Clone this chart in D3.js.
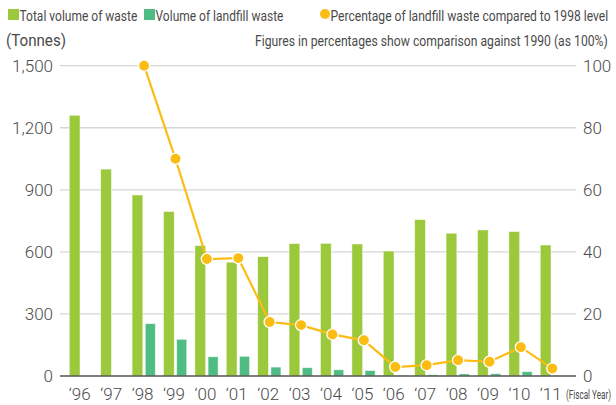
<!DOCTYPE html>
<html><head><meta charset="utf-8">
<script src="https://cdn.jsdelivr.net/npm/d3@7"></script>
<style>
html,body{margin:0;padding:0;background:#fff;}
svg text{font-family:Roboto,"Liberation Sans",Arial,sans-serif;}
</style></head>
<body><svg id="c" width="616" height="405"></svg>
<script>
const years = ["‘96","‘97","‘98","‘99","‘00","‘01","‘02","‘03","‘04","‘05","‘06","‘07","‘08","‘09","‘10","‘11"];
const totalWaste = [1260,1000,875,795,630,550,577,640,641,638,604,756,690,706,698,633];
const landfillWaste = [null,null,253,177,93,95,43,40,30,26,3,6,10,11,21,1];
const landfillPct = [null,null,100,70,37.7,38,17.4,16.4,13.4,11.5,2.9,3.5,5.1,4.6,9.3,2.4];
const leftTicks = [0,300,600,900,1200,1500];
const rightTicks = [0,20,40,60,80,100];

const C_TOTAL = "#9bc93b", C_LAND = "#4fbd83", C_PCT = "#fbbd14", TXT = "#4a4a4a";
const svg = d3.select("#c");
const x0 = 60, x1 = 576;
const x = d3.scalePoint().domain(years).range([81.3, 552.3]);
const y = d3.scaleLinear().domain([0,1500]).range([376, 65.7]);
const yr = d3.scaleLinear().domain([0,100]).range([376, 65.7]);

// condensed text helper: scales text horizontally to the wanted width
function condensed(px, py, size, width, str){
  const g = svg.append("g");
  const t = g.append("text").attr("font-size",size).attr("fill",TXT).text(str);
  const w = t.node().getComputedTextLength();
  const s = Math.min(1, width / w);
  g.attr("transform",`translate(${px},${py}) scale(${s},1)`);
  return t;
}

// gridlines
svg.append("g").selectAll("line").data(leftTicks.filter(d=>d>0)).join("line")
  .attr("x1",x0).attr("x2",x1).attr("y1",d=>y(d)).attr("y2",d=>y(d))
  .attr("stroke","#d6d6d6").attr("stroke-width",1.3);

// left axis labels
const la = svg.append("g").attr("transform",`translate(${x0},0)`)
  .call(d3.axisLeft(y).tickValues(leftTicks).tickSize(0).tickPadding(7).tickFormat(d3.format(",")));
la.select(".domain").remove();
la.selectAll("text").attr("font-size",17).attr("fill",TXT).attr("font-weight",300)
  .attr("font-family","Roboto, 'Liberation Sans', sans-serif");

// right axis labels
const ra = svg.append("g").attr("transform",`translate(${x1},0)`)
  .call(d3.axisRight(yr).tickValues(rightTicks).tickSize(0).tickPadding(7));
ra.select(".domain").remove();
ra.selectAll("text").attr("font-size",17).attr("fill",TXT).attr("font-weight",300)
  .attr("font-family","Roboto, 'Liberation Sans', sans-serif");

// bars
const idx = d3.range(years.length);
svg.append("g").selectAll("rect").data(idx).join("rect")
  .attr("x",i=>x(years[i])-12).attr("width",10.7)
  .attr("y",i=>y(totalWaste[i])).attr("height",i=>y(0)-y(totalWaste[i]))
  .attr("fill",C_TOTAL).attr("stroke","rgba(255,255,255,0.55)").attr("stroke-width",0.8);
svg.append("g").selectAll("rect").data(idx.filter(i=>landfillWaste[i]!=null)).join("rect")
  .attr("x",i=>x(years[i])+1.2).attr("width",10)
  .attr("y",i=>y(landfillWaste[i])).attr("height",i=>y(0)-y(landfillWaste[i]))
  .attr("fill",C_LAND).attr("stroke","rgba(255,255,255,0.55)").attr("stroke-width",0.8);

// baseline axis
svg.append("line").attr("x1",x0).attr("x2",x1).attr("y1",y(0)).attr("y2",y(0))
  .attr("stroke","#555").attr("stroke-width",1.5);

// x labels
svg.append("g").selectAll("text").data(years).join("text")
  .attr("x",d=>x(d)-1.5).attr("y",400).attr("text-anchor","middle")
  .attr("font-size",17).attr("font-weight",300).attr("fill",TXT).text(d=>d);
condensed(566, 399, 12, 45, "(Fiscal Year)");

// percentage line
const pts = idx.filter(i=>landfillPct[i]!=null);
svg.append("path").datum(pts)
  .attr("d",d3.line().x(i=>x(years[i])).y(i=>yr(landfillPct[i])))
  .attr("fill","none").attr("stroke",C_PCT).attr("stroke-width",2.2);
svg.append("g").selectAll("circle").data(pts).join("circle")
  .attr("cx",i=>x(years[i])).attr("cy",i=>yr(landfillPct[i])).attr("r",5.6)
  .attr("fill",C_PCT).attr("stroke","#fff").attr("stroke-width",1.3);

// legend
svg.append("rect").attr("x",8).attr("y",9).attr("width",11).attr("height",11).attr("fill",C_TOTAL);
condensed(19.5, 21, 15, 118, "Total volume of waste");
svg.append("rect").attr("x",144).attr("y",9).attr("width",11).attr("height",11).attr("fill",C_LAND);
condensed(155.5, 21, 15, 128, "Volume of landfill waste");
svg.append("circle").attr("cx",325).attr("cy",14).attr("r",5).attr("fill",C_PCT);
condensed(330.5, 21, 15, 278, "Percentage of landfill waste compared to 1998 level");
condensed(6, 46, 16, 60, "(Tonnes)");
condensed(255, 46, 15, 353, "Figures in percentages show comparison against 1990 (as 100%)");
</script></body></html>
